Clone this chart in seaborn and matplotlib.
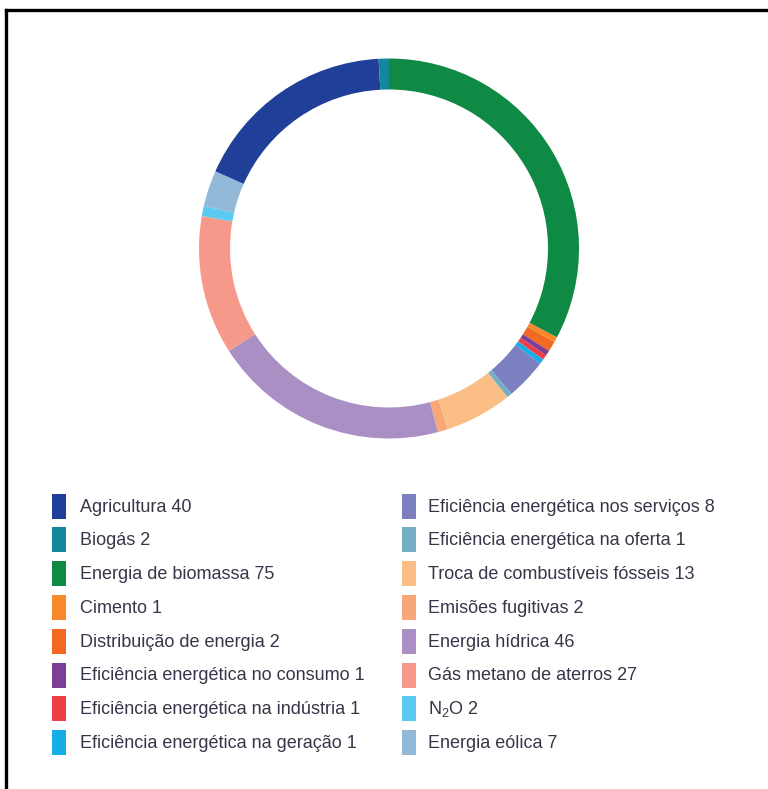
import matplotlib
matplotlib.use("Agg")
import matplotlib.pyplot as plt
from matplotlib.patches import Rectangle
from matplotlib.lines import Line2D
import seaborn as sns

sns.set_theme(style="white")
plt.rcParams["font.family"] = ["Liberation Sans", "DejaVu Sans"]
plt.rcParams["mathtext.default"] = "regular"

# Legend order (two columns of eight)
labels = [
    "Agricultura", "Biogás", "Energia de biomassa", "Cimento",
    "Distribuição de energia", "Eficiência energética no consumo",
    "Eficiência energética na indústria", "Eficiência energética na geração",
    "Eficiência energética nos serviços", "Eficiência energética na oferta",
    "Troca de combustíveis fósseis", "Emisões fugitivas",
    "Energia hídrica", "Gás metano de aterros", "N$_2$O", "Energia eólica",
]
values = [40, 2, 75, 1, 2, 1, 1, 1, 8, 1, 13, 2, 46, 27, 2, 7]
colors = [
    "#1f3f99", "#14879e", "#0e8a45", "#f7892a",
    "#f26a22", "#7b3f98", "#ee4044", "#17aee8",
    "#7d80c0", "#75aec4", "#fbbf85", "#f8a878",
    "#a98fc3", "#f6998a", "#5bcaf2", "#93b9d9",
]
# Order of the segments around the ring, clockwise from the top
ring_order = [2, 3, 4, 5, 6, 7, 8, 9, 10, 11, 12, 13, 14, 15, 0, 1]

W, H = 768, 789
fig = plt.figure(figsize=(W / 100, H / 100), dpi=100)
fig.patch.set_facecolor("white")

def fx(px):
    return px / W

def fy(py):
    return 1 - py / H

# Donut
cx, cy, r = 389, 248.5, 190
ax = fig.add_axes([fx(cx - r), fy(cy + r), 2 * r / W, 2 * r / H])
ax.pie(
    [values[i] for i in ring_order],
    colors=[colors[i] for i in ring_order],
    startangle=90, counterclock=False, radius=1,
    wedgeprops=dict(width=31 / r, linewidth=0),
)
ax.set_xlim(-1, 1)
ax.set_ylim(-1, 1)
ax.set_aspect("equal")
ax.axis("off")

# Legend
text_color = "#3b3448"
row0, step = 506, 33.8
cols = [(52, 80), (402, 428)]
for k, (lab, val, col) in enumerate(zip(labels, values, colors)):
    c, row = divmod(k, 8)
    sx, tx = cols[c]
    yc = row0 + step * row
    fig.add_artist(Rectangle((fx(sx), fy(yc + 12.5)), 14 / W, 25 / H,
                             transform=fig.transFigure, facecolor=col,
                             edgecolor="none"))
    fig.text(fx(tx), fy(yc + 5.5), f"{lab} {val}", fontsize=13,
             color=text_color, va="baseline", ha="left")

# Frame lines along the top and left
fig.add_artist(Line2D([fx(6), fx(6)], [fy(10), fy(H + 5)], color="black",
                      linewidth=2.4, transform=fig.transFigure,
                      solid_capstyle="projecting"))
fig.add_artist(Line2D([fx(6), fx(W + 5)], [fy(10), fy(10)], color="black",
                      linewidth=2.4, transform=fig.transFigure,
                      solid_capstyle="projecting"))

fig.savefig("out.png", dpi=100, facecolor="white")
